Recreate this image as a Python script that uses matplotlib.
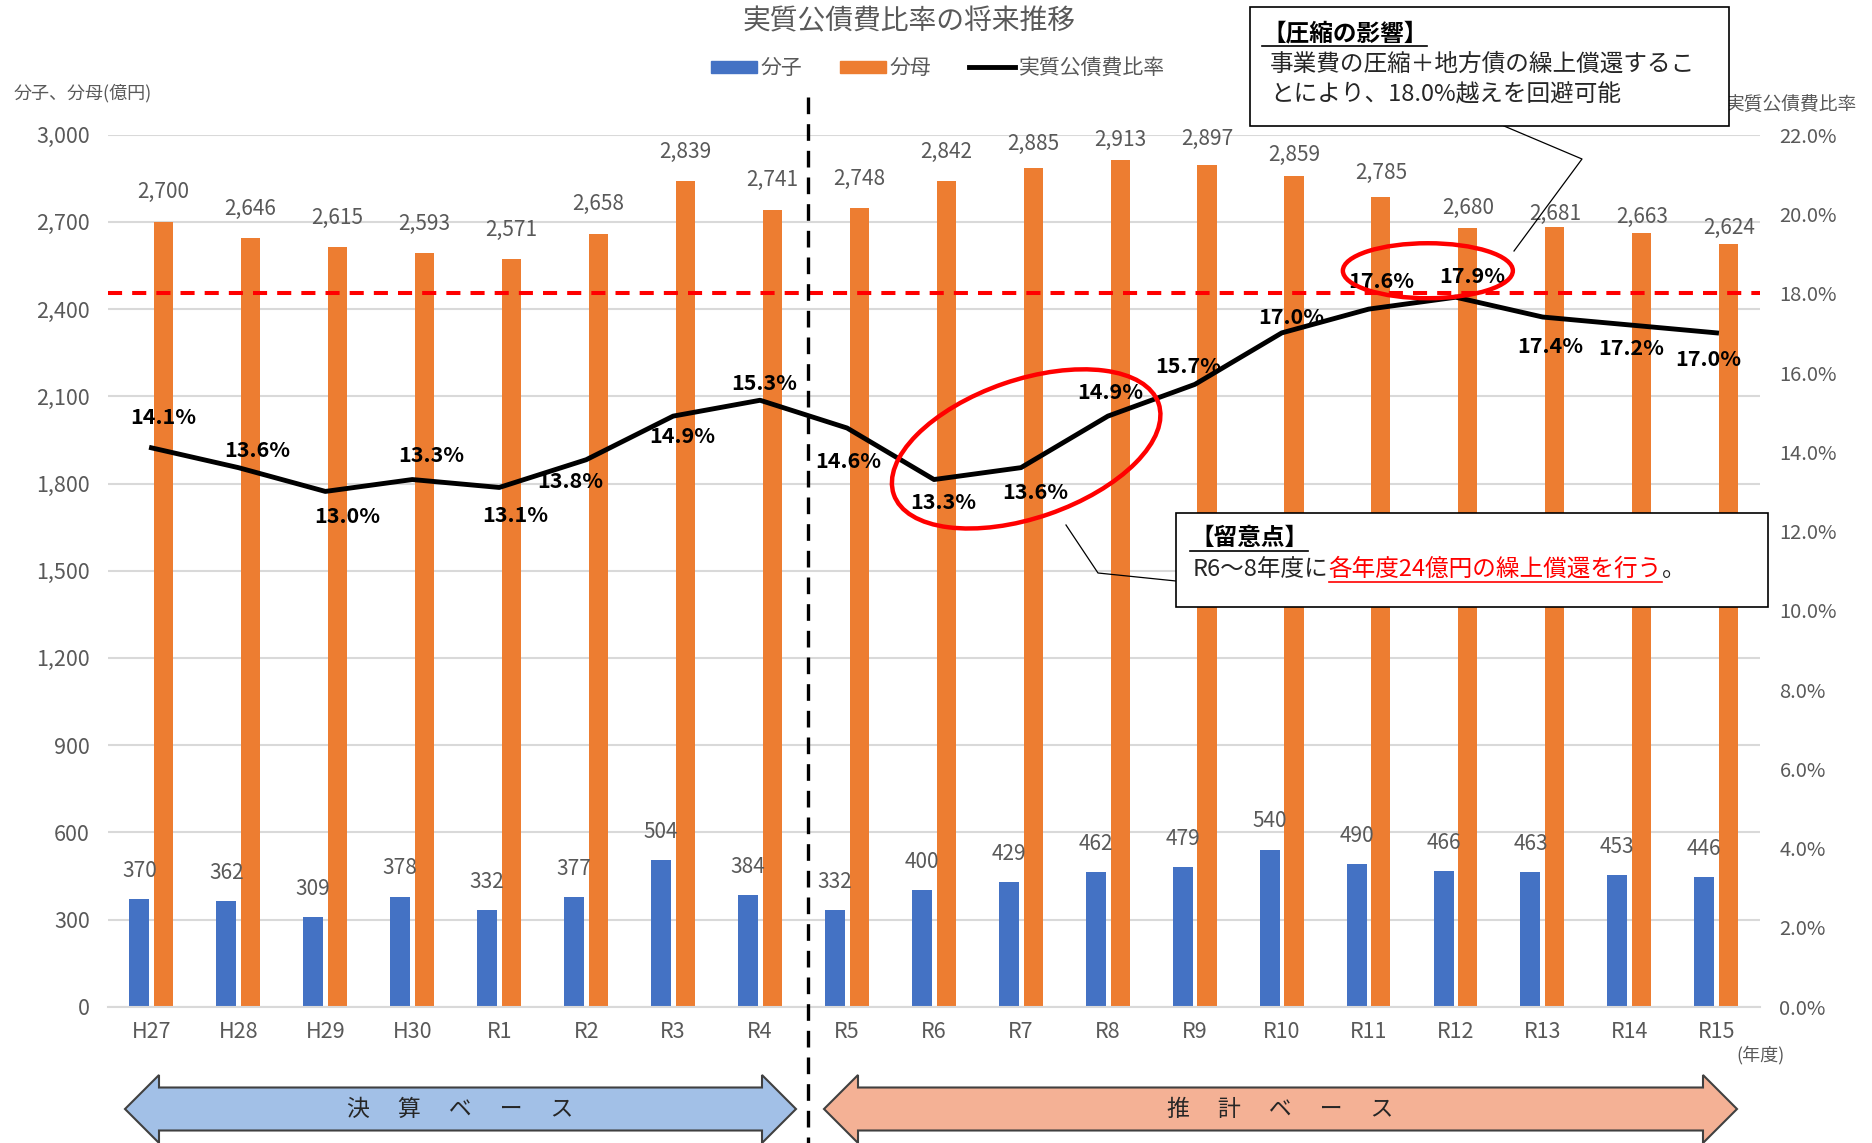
import matplotlib
matplotlib.use("Agg")
import matplotlib.pyplot as plt
import numpy as np
from matplotlib import transforms
from matplotlib.lines import Line2D
from matplotlib.patches import Ellipse, Patch, Polygon, Rectangle

plt.rcParams["font.family"] = ["Noto Sans CJK JP", "DejaVu Sans"]

# ----- data -----
years = ["H27", "H28", "H29", "H30", "R1", "R2", "R3", "R4", "R5", "R6",
         "R7", "R8", "R9", "R10", "R11", "R12", "R13", "R14", "R15"]
numerator = [370, 362, 309, 378, 332, 377, 504, 384, 332, 400,
             429, 462, 479, 540, 490, 466, 463, 453, 446]
denominator = [2700, 2646, 2615, 2593, 2571, 2658, 2839, 2741, 2748, 2842,
               2885, 2913, 2897, 2859, 2785, 2680, 2681, 2663, 2624]
ratio = [14.1, 13.6, 13.0, 13.3, 13.1, 13.8, 14.9, 15.3, 14.6, 13.3,
         13.6, 14.9, 15.7, 17.0, 17.6, 17.9, 17.4, 17.2, 17.0]
limit = 18.0
left_ticks = list(range(0, 3001, 300))
right_ticks = list(range(0, 23, 2))

# label placement (pixels) -- the source chart had hand-nudged labels
ratio_offsets = [(12, 30), (19, 17), (22, -25), (19, 24), (16, -28), (-16, -22),
                 (9, -20), (4, 17), (1, -33), (9, -23), (14, -25), (2, 24),
                 (-7, 18), (10, 15), (13, 28), (17, 21), (8, -29), (2, -24),
                 (-8, -27)]
denom_offsets = [30, 29, 29, 29, 29, 30, 30, 30, 29, 29, 24, 20, 26, 21, 24, 20, 13, 16, 16]

BLUE, ORANGE, GRAY, GRID = "#4472c4", "#ed7d31", "#595959", "#d9d9d9"

W, H = 1872, 1143
fig = plt.figure(figsize=(W / 100, H / 100), dpi=100)


def fx(px):
    return px / W


def fy(py):
    return 1 - py / H


ax = fig.add_axes([fx(108), fy(1006.7), (1760 - 108) / W, (1006.7 - 134.7) / H])
ax2 = ax.twinx()

x = np.arange(len(years))
ax.set_axisbelow(True)
ax.bar(x - 0.14, numerator, width=0.23, color=BLUE)
ax.bar(x + 0.14, denominator, width=0.22, color=ORANGE)

ax.set_xlim(-0.5, len(years) - 0.5)
ax.set_ylim(0, 3000)
ax.set_yticks(left_ticks)
ax.set_yticklabels([f"{t:,}" for t in left_ticks])
ax.set_xticks(x)
ax.set_xticklabels(years)
ax.grid(axis="y", color=GRID, lw=1.5)
for s in ["top", "left", "right"]:
    ax.spines[s].set_visible(False)
ax.spines["bottom"].set_color(GRID)
ax.spines["bottom"].set_linewidth(1.5)
ax.tick_params(axis="both", length=0, labelsize=15.5, labelcolor=GRAY)
ax.tick_params(axis="x", pad=10)
ax.tick_params(axis="y", pad=13)

for i in range(len(years)):
    ax.annotate(f"{numerator[i]:,}", (x[i] - 0.14, numerator[i]), xytext=(0, 12.5),
                textcoords="offset points", ha="center", va="bottom",
                fontsize=15, color=GRAY)
    ax.annotate(f"{denominator[i]:,}", (x[i] + 0.14, denominator[i]),
                xytext=(0, denom_offsets[i]), textcoords="offset pixels",
                ha="center", va="center", fontsize=15, color=GRAY)

# ----- ratio line on the right axis -----
ax2.set_ylim(0, 22)
ax2.set_yticks(right_ticks)
ax2.set_yticklabels([f"{t:.1f}%" for t in right_ticks])
for s in ax2.spines.values():
    s.set_visible(False)
ax2.tick_params(axis="y", length=0, labelsize=14.5, labelcolor=GRAY, pad=14)
ax2.axhline(limit, color="#ff0000", lw=2.9, dashes=(3.5, 2.5))
ax2.plot(x, ratio, color="black", lw=3.5)
for i, v in enumerate(ratio):
    dx, dy = ratio_offsets[i]
    ax2.annotate(f"{v:.1f}%", (x[i], v), xytext=(dx, dy), textcoords="offset pixels",
                 ha="center", va="center", fontsize=15.5, fontweight="bold")

# divider between actual and estimate
split = years.index("R5") - 0.445
vtrans = transforms.blended_transform_factory(ax2.transData, fig.transFigure)
ax2.plot([split, split], [fy(97), 0], transform=vtrans, color="black", lw=2.4,
         dashes=(5, 3), clip_on=False, zorder=5)

# red ellipses (center in data, size in inches)
for cx, cy, w, h, ang in [(14.68, 2532, 1.70, 0.55, 0), (10.06, 1919, 2.80, 1.38, 19)]:
    tr = fig.dpi_scale_trans + transforms.ScaledTranslation(cx, cy, ax.transData)
    ax2.add_patch(Ellipse((0, 0), w, h, angle=ang, transform=tr, fill=False,
                          ec="#ff0000", lw=3.2, clip_on=False, zorder=6))

# ----- titles / axis labels / legend -----
fig.text(fx(909), fy(21), "実質公債費比率の将来推移", ha="center", va="center",
         fontsize=20, color=GRAY)
fig.text(fx(14), fy(93), "分子、分母(億円)", ha="left", va="center", fontsize=13, color=GRAY)
fig.text(fx(1791), fy(105), "実質公債費比率", ha="center", va="center", fontsize=13.5,
         color=GRAY, zorder=1)
fig.text(fx(1761), fy(1055), "(年度)", ha="center", va="center", fontsize=13, color=GRAY)

handles = [Patch(color=BLUE, label="分子"), Patch(color=ORANGE, label="分母"),
           Line2D([], [], color="black", lw=3.5, label="実質公債費比率")]
fig.legend(handles=handles, loc="center", bbox_to_anchor=(fx(938), fy(68)), ncol=3,
           frameon=False, fontsize=15, labelcolor=GRAY, handlelength=2.2,
           handleheight=0.5, handletextpad=0.2, columnspacing=1.8)


# ----- bottom arrows -----
def double_arrow(x0, x1, yc, fc, hl=34, hh=34, bh=21.5):
    pts = [(x0, yc), (x0 + hl, yc - hh), (x0 + hl, yc - bh), (x1 - hl, yc - bh),
           (x1 - hl, yc - hh), (x1, yc), (x1 - hl, yc + hh), (x1 - hl, yc + bh),
           (x0 + hl, yc + bh), (x0 + hl, yc + hh)]
    fig.add_artist(Polygon([(fx(a), fy(b)) for a, b in pts], closed=True,
                           transform=fig.transFigure, fc=fc, ec="#404040", lw=1.5))


double_arrow(125, 796, 1109, "#a2c0e7")
double_arrow(824, 1737, 1109, "#f4b195")
fig.text(fx(460), fy(1109), "決\u3000 算\u3000 ベ\u3000 ー\u3000 ス", ha="center",
         va="center", fontsize=16.5, color="#262626")
fig.text(fx(1280), fy(1109), "推\u3000 計\u3000 ベ\u3000 ー\u3000 ス", ha="center",
         va="center", fontsize=16.5, color="#262626")


# ----- callout boxes -----
def box(x0, y0, x1, y1):
    fig.add_artist(Rectangle((fx(x0), fy(y1)), (x1 - x0) / W, (y1 - y0) / H,
                             transform=fig.transFigure, fc="white", ec="black",
                             lw=1.2, zorder=10))


def connector(pts):
    fig.add_artist(Line2D([fx(a) for a, b in pts], [fy(b) for a, b in pts],
                          transform=fig.transFigure, color="black", lw=0.9, zorder=9))


box_fs = 17
box(1250, 7, 1729, 126)
connector([(1504, 126), (1582, 159), (1514, 251)])
t1 = fig.text(fx(1262), fy(33), "【圧縮の影響】", ha="left", va="center",
              fontsize=box_fs, fontweight="bold", zorder=11)
fig.text(fx(1270), fy(64), "事業費の圧縮＋地方債の繰上償還するこ", ha="left",
         va="center", fontsize=box_fs, color="#262626", zorder=11)
fig.text(fx(1270), fy(95), "とにより、18.0%越えを回避可能", ha="left",
         va="center", fontsize=box_fs, color="#262626", zorder=11)

box(1176, 513, 1768, 607)
connector([(1176, 581), (1098, 573), (1066, 525)])
t2 = fig.text(fx(1190), fy(538), "【留意点】", ha="left", va="center",
              fontsize=box_fs, fontweight="bold", zorder=11)
t3 = fig.text(fx(1193), fy(569), "R6～8年度に", ha="left", va="center",
              fontsize=box_fs, color="#262626", zorder=11)

# chain the red part and the final mark after the measured end of the previous text
renderer = fig.canvas.get_renderer()
bb3 = t3.get_window_extent(renderer=renderer)
t4 = fig.text(bb3.x1 / W, fy(569), "各年度24億円の繰上償還を行う", ha="left",
              va="center", fontsize=box_fs, color="#ff0000", zorder=11)
bb4 = t4.get_window_extent(renderer=renderer)
fig.text(bb4.x1 / W, fy(569), "。", ha="left", va="center", fontsize=box_fs,
         color="#262626", zorder=11)

# underlines measured from rendered text extents
for t, col in [(t1, "black"), (t2, "black"), (t4, "#ff0000")]:
    bb = t.get_window_extent(renderer=renderer)
    y = (bb.y0 - 1) / H
    fig.add_artist(Line2D([bb.x0 / W, bb.x1 / W], [y, y], transform=fig.transFigure,
                          color=col, lw=1.2, zorder=12))

fig.savefig("out.png", dpi=100)
plt.close(fig)
